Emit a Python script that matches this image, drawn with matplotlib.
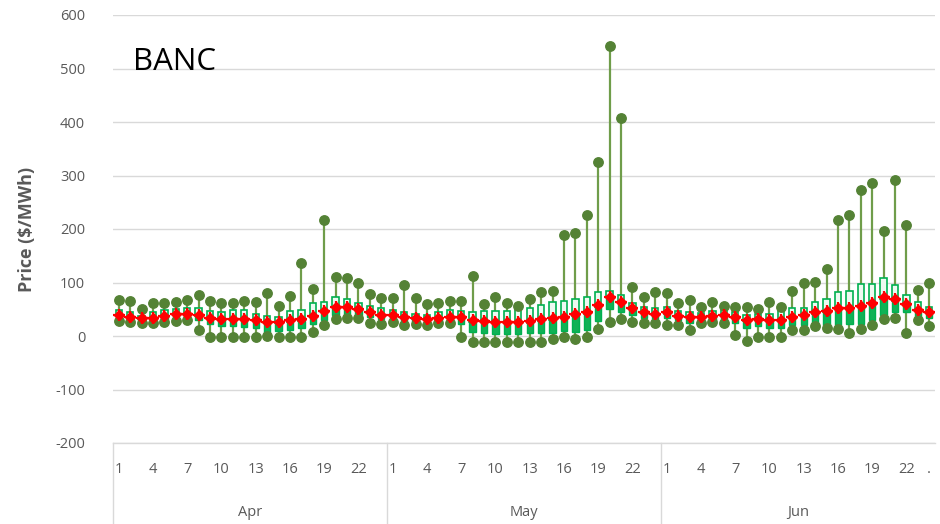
import matplotlib
matplotlib.use("Agg")
import matplotlib.pyplot as plt
import matplotlib.transforms as mtransforms
import numpy as np

months = ["Apr", "May", "Jun"]
hours = list(range(1, 25))

# Apr
apr_max  = [68, 66, 50, 62, 62, 63, 67, 77, 66, 62, 61, 66, 63, 80, 57, 75, 136, 87, 217, 110, 108, 99, 78, 71]
apr_q3   = [48, 45, 38, 45, 48, 50, 53, 52, 46, 44, 48, 48, 42, 38, 35, 47, 48, 61, 63, 72, 70, 62, 57, 52]
apr_med  = [38, 36, 32, 34, 38, 40, 42, 38, 32, 30, 30, 30, 28, 26, 25, 27, 28, 35, 45, 55, 55, 50, 45, 40]
apr_q1   = [32, 30, 28, 29, 31, 32, 34, 30, 22, 18, 18, 16, 15, 2, 10, 12, 15, 22, 30, 40, 40, 40, 35, 32]
apr_min  = [28, 27, 24, 25, 27, 28, 30, 11, -1, -1, -2, -2, -1, 0, -1, -1, -1, 8, 21, 31, 33, 33, 25, 22]
apr_mean = [40, 36, 33, 34, 38, 41, 42, 39, 33, 31, 32, 31, 29, 27, 27, 29, 31, 37, 46, 55, 55, 50, 45, 39]

# May
may_max  = [71, 96, 71, 60, 61, 66, 66, 112, 59, 72, 61, 56, 69, 83, 85, 188, 192, 226, 325, 542, 407, 91, 72, 82]
may_q3   = [48, 45, 42, 40, 44, 48, 47, 45, 46, 46, 46, 48, 52, 58, 64, 66, 70, 73, 82, 85, 77, 62, 55, 52]
may_med  = [38, 34, 32, 31, 33, 35, 33, 27, 27, 25, 25, 25, 25, 28, 30, 33, 38, 42, 55, 72, 62, 50, 45, 42]
may_q1   = [30, 27, 26, 25, 27, 28, 23, 8, 5, 3, 3, 3, 5, 6, 5, 10, 8, 12, 28, 50, 45, 40, 33, 32]
may_min  = [26, 20, 22, 21, 24, 25, -1, -11, -11, -12, -11, -11, -11, -11, -6, -1, -6, -2, 13, 27, 32, 27, 24, 25]
may_mean = [39, 35, 33, 32, 34, 36, 35, 29, 28, 27, 26, 27, 28, 31, 33, 36, 41, 44, 58, 72, 64, 52, 44, 41]

# Jun
jun_max  = [81, 62, 67, 54, 64, 57, 55, 54, 50, 63, 55, 84, 100, 101, 125, 217, 226, 273, 286, 196, 292, 207, 86, 100]
jun_q3   = [55, 46, 45, 43, 47, 48, 45, 40, 42, 42, 46, 52, 52, 63, 70, 83, 84, 97, 98, 108, 95, 77, 63, 54]
jun_med  = [42, 37, 35, 35, 38, 38, 35, 28, 30, 28, 28, 35, 37, 42, 45, 50, 50, 55, 60, 70, 65, 60, 48, 43]
jun_q1   = [33, 30, 25, 28, 30, 30, 25, 15, 18, 15, 15, 20, 20, 22, 20, 20, 22, 22, 30, 40, 45, 45, 37, 33]
jun_min  = [21, 21, 11, 24, 26, 25, 1, -9, -1, -1, -1, 12, 12, 19, 15, 14, 5, 14, 20, 31, 33, 5, 29, 19]
jun_mean = [44, 38, 35, 36, 38, 39, 36, 30, 31, 29, 29, 36, 39, 44, 47, 53, 53, 56, 62, 72, 69, 60, 49, 44]

y_ticks = [-200, -100, 0, 100, 200, 300, 400, 500, 600]
hour_tick_labels = ["1", "4", "7", "10", "13", "16", "19", "22"]

vmax = np.array(apr_max + may_max + jun_max, float)
vq3 = np.array(apr_q3 + may_q3 + jun_q3, float)
vmed = np.array(apr_med + may_med + jun_med, float)
vq1 = np.array(apr_q1 + may_q1 + jun_q1, float)
vmin = np.array(apr_min + may_min + jun_min, float)
vmean = np.array(apr_mean + may_mean + jun_mean, float)
n = len(vmax)
x = np.arange(n)

grey = "#595959"
plt.rcParams['font.family'] = ['Open Sans', 'DejaVu Sans']
plt.rcParams['axes.unicode_minus'] = False

fig = plt.figure(figsize=(9.4, 5.24), dpi=100)
ax = fig.add_axes([113/940, 1-443/524, 822/940, 428/524])

ax.set_ylim(-200, 600)
ax.set_xlim(-0.5, n - 0.5)
ax.set_yticks(y_ticks)
ax.yaxis.grid(True, color="#d9d9d9", lw=1)
ax.set_axisbelow(True)
for s in ax.spines.values():
    s.set_visible(False)
ax.tick_params(axis="y", length=0, labelsize=10.5, labelcolor=grey, pad=20)

# whiskers
ax.vlines(x, vmin, vmax, color="#6f9d4a", lw=1.6, zorder=2)
bw = 0.55
# lower box (q1 -> median), filled
ax.bar(x, vmed - vq1, bottom=vq1, width=bw, color="#10b256", edgecolor="#00b050", lw=1.0, zorder=3)
# upper box (median -> q3), outlined
ax.bar(x, vq3 - vmed, bottom=vmed, width=bw, color="#eef9f1", edgecolor="#00b050", lw=1.2, zorder=3)
# max/min dots
ax.plot(x, vmax, "o", color="#548235", ms=6.8, zorder=4, lw=0)
ax.plot(x, vmin, "o", color="#548235", ms=6.8, zorder=4, lw=0)
# mean
ax.plot(x, vmean, "D", color="#ff0000", ms=5, zorder=5, lw=0)
ax.plot(x, vmean, "+", color="#ff0000", ms=9, mew=1.6, zorder=5, lw=0)

# category axis
ticks = []
labels = []
for m in range(len(months)):
    for i, lab in enumerate(hour_tick_labels):
        ticks.append(m * 24 + 3 * i)
        labels.append(lab)
ticks.append(71)
labels.append(".")
ax.set_xticks(ticks)
ax.set_xticklabels(labels)
ax.tick_params(axis="x", length=0, labelsize=10.5, labelcolor=grey, pad=14)

trans = mtransforms.blended_transform_factory(ax.transData, ax.transAxes)
ax.plot([-0.5, n - 0.5], [0, 0], transform=trans, color="#d9d9d9", lw=1, clip_on=False)
for m in range(len(months)):
    xs = m * 24 - 0.5
    ax.plot([xs, xs], [0, -0.19], transform=trans, color="#d9d9d9", lw=1, clip_on=False)
    ax.text(m * 24 + 11.5, -0.162, months[m], transform=trans, ha="center", va="center",
            fontsize=10.5, color=grey)

ax.set_ylabel("Price ($/MWh)", fontsize=13, fontweight="bold", color=grey, labelpad=14)
ax.text(0.024, 0.89, "BANC", transform=ax.transAxes, fontsize=22.5, color="black",
        ha="left", va="center")

fig.savefig("out.png", dpi=100)
